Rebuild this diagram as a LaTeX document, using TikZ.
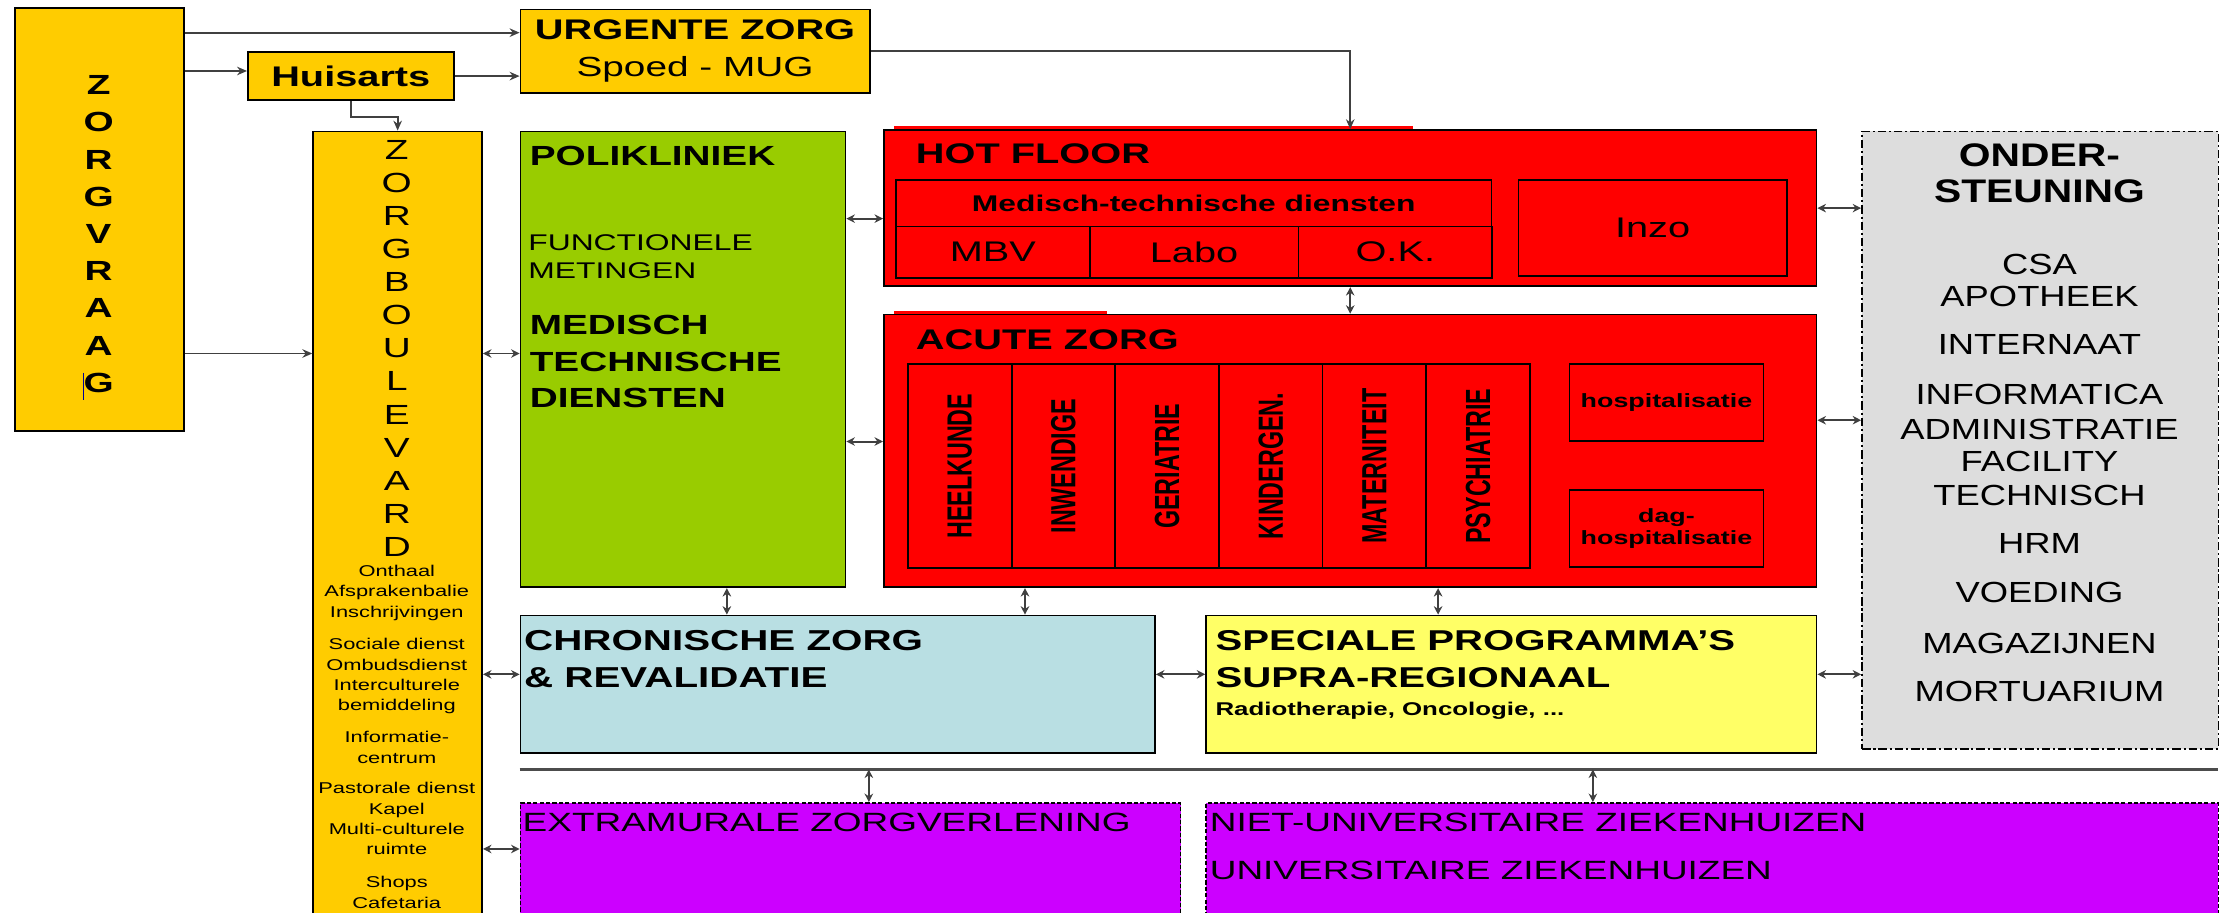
\documentclass[tikz,border=0pt]{standalone}
\usepackage{fontspec}
\setmainfont[FakeStretch=1.4]{Liberation Sans}
\newfontfamily\steunfont[FakeStretch=1.25]{Liberation Sans}
\newfontfamily\kolomfont{Liberation Sans}
\usetikzlibrary{arrows.meta}

\definecolor{zorggeel}{RGB}{255,204,0}
\definecolor{poligroen}{RGB}{153,204,0}
\definecolor{hotrood}{RGB}{255,0,0}
\definecolor{steungrijs}{RGB}{221,221,221}
\definecolor{chronblauw}{RGB}{185,223,227}
\definecolor{speciaalgeel}{RGB}{255,255,102}
\definecolor{extrapaars}{RGB}{204,0,255}

\newcommand{\grootte}[2]{\fontsize{#1}{#2}\selectfont}

\tikzset{
  blok/.style={draw=black, line width=1.2pt, inner sep=0pt, anchor=north west},
  tekst/.style={inner sep=0pt},
  pijl/.style={draw=black!75, line width=1.4pt, -{Stealth[length=7pt,width=6pt]}},
  dpijl/.style={draw=black!75, line width=1.4pt, {Stealth[length=6pt,width=6pt]}-{Stealth[length=6pt,width=6pt]}},
}

\begin{document}
\begin{tikzpicture}[x=1pt,y=-1pt]
        \useasboundingbox (0,0) rectangle (1568,643);
        \clip (0,0) rectangle (1568,643);
        % zorgvraag, huisarts, urgente zorg
        \node[blok, fill=zorggeel, minimum width=119pt, minimum height=298pt] (zorgvraag) at (10,5) {};
        \foreach \l [count=\i] in {Z,O,R,G,V,R,A,A,G}
        \node[tekst, font=\grootte{19.5}{20}\bfseries] (zv\i) at (69.5,60+26.2*\i-26.2) {\l};
        \draw[blue!60!black, line width=0.8pt] (59,262.5) -- (59,282);
        \node[blok, fill=zorggeel, minimum width=145pt, minimum height=34pt, font=\grootte{20}{24}\bfseries] (huisarts) at (174,36) {Huisarts};
        \node[blok, fill=zorggeel, minimum width=246pt, minimum height=59pt, align=center, font=\grootte{20}{25.8}] (urgente) at (366,6) {{\bfseries URGENTE ZORG}\\{\grootte{19.5}{25.8}Spoed - MUG}};
        % zorgboulevard
        \node[blok, fill=zorggeel, minimum width=119pt, minimum height=560pt] (zorgboulevard) at (220,92) {};
        \foreach \l [count=\i] in {Z,O,R,G,B,O,U,L,E,V,A,R,D}
        \node[tekst, font=\grootte{19.5}{20}] (zb\i) at (279.5,105.6+23.3*\i-23.3) {\l};
        \node[tekst, align=center, font=\grootte{11}{14.3}] (onthaal) at (279.5,417.5) {Onthaal\\Afsprakenbalie\\Inschrijvingen};
        \node[tekst, align=center, font=\grootte{11}{14.3}] (sociaal) at (279.5,476.4) {Sociale dienst\\Ombudsdienst\\Interculturele\\bemiddeling};
        \node[tekst, align=center, font=\grootte{11}{14.3}] (informatie) at (279.5,526.5) {Informatie-\\centrum};
        \node[tekst, align=center, font=\grootte{11}{14.3}] (pastoraal) at (279.5,576.7) {Pastorale dienst\\Kapel\\Multi-culturele\\ruimte};
        \node[tekst, align=center, font=\grootte{11}{14.3}] (shops) at (279.5,628.7) {Shops\\Cafetaria};
        % polikliniek
        \node[blok, fill=poligroen, minimum width=229pt, minimum height=321pt] (polikliniek) at (366,92) {};
        \node[tekst, anchor=west, font=\grootte{19.5}{24}\bfseries] (politekst) at (373,110) {POLIKLINIEK};
        \node[tekst, anchor=west, align=left, font=\grootte{16}{19.7}] (metingen) at (372,181) {FUNCTIONELE\\METINGEN};
        \node[tekst, anchor=west, align=left, font=\grootte{19.5}{25.7}\bfseries] (mtdtekst) at (373,254.8) {MEDISCH\\TECHNISCHE\\DIENSTEN};
        % hot floor
        \node[blok, fill=hotrood, minimum width=657pt, minimum height=110pt] (hotfloor) at (622,91) {};
        \draw[hotrood, line width=2pt] ([xshift=8pt,yshift=1pt]hotfloor.north west) -- ([xshift=373pt,yshift=1pt]hotfloor.north west);
        \node[tekst, anchor=west, font=\grootte{20}{24}\bfseries] (hottekst) at (645,108) {HOT FLOOR};
        \node[blok, fill=hotrood, minimum width=419.5pt, minimum height=33pt, font=\grootte{16}{19}\bfseries] (mtd) at (630.5,126) {Medisch-technische diensten};
        \node[blok, fill=hotrood, minimum width=136.5pt, minimum height=36pt, font=\grootte{20}{24}] (mbv) at (630.5,159) {MBV};
        \node[blok, fill=hotrood, minimum width=147pt, minimum height=36pt, font=\grootte{20}{24}] (labo) at (767,159) {Labo};
        \node[blok, fill=hotrood, minimum width=136.5pt, minimum height=36pt, font=\grootte{20}{24}] (ok) at (914,159) {O.K.};
        \node[blok, fill=hotrood, minimum width=189pt, minimum height=68pt, font=\grootte{20}{24}] (inzo) at (1069,126) {Inzo};
        % acute zorg
        \node[blok, fill=hotrood, minimum width=657pt, minimum height=192pt] (acutezorg) at (622,221) {};
        \draw[hotrood, line width=2pt] ([xshift=8pt,yshift=1pt]acutezorg.north west) -- ([xshift=158pt,yshift=1pt]acutezorg.north west);
        \node[tekst, anchor=west, font=\grootte{20}{24}\bfseries] (acutetekst) at (645,239.5) {ACUTE ZORG};
        \foreach \afd [count=\i] in {HEELKUNDE,INWENDIGE,GERIATRIE,KINDERGEN.,MATERNITEIT,PSYCHIATRIE}
        {
            \node[blok, fill=hotrood, minimum width=73pt, minimum height=143.5pt] (afd\i) at (639+73*\i-73,256) {};
            \node[tekst, rotate=90] (afdtekst\i) at (afd\i.center) {\scalebox{1}[1.5]{\kolomfont\grootte{16.4}{20}\bfseries \afd}};
        }
        \node[blok, fill=hotrood, minimum width=136.5pt, minimum height=54pt, font=\grootte{13.5}{15.8}\bfseries] (hosp) at (1105,256) {hospitalisatie};
        \node[blok, fill=hotrood, minimum width=136.5pt, minimum height=54.5pt, align=center, font=\grootte{13.5}{15.8}\bfseries] (daghosp) at (1105,344.5) {dag-\\hospitalisatie};
        % ondersteuning
        \node[blok, fill=steungrijs, dash pattern=on 6pt off 2pt on 1.5pt off 2pt, minimum width=251pt, minimum height=435pt] (steun) at (1311,92) {};
        \node[tekst, align=center, font=\steunfont\grootte{23}{25.2}\bfseries] (steuntitel) at (1436.6,122.3) {ONDER-\\STEUNING};
        \foreach \y/\t [count=\i] in {186/CSA, 209/APOTHEEK, 243/INTERNAAT, 278/INFORMATICA, 302.5/ADMINISTRATIE, 325/FACILITY, 349/TECHNISCH, 383/HRM, 417/VOEDING, 453/MAGAZIJNEN, 487/MORTUARIUM}
        \node[tekst, font=\steunfont\grootte{20.5}{24}] (steun\i) at (1436.6,\y) {\t};
        % chronische zorg, speciale programma's
        \node[blok, fill=chronblauw, minimum width=447pt, minimum height=97pt] (chronisch) at (366,433) {};
        \node[tekst, anchor=west, align=left, font=\grootte{20.3}{25.9}\bfseries] (chrontekst) at (369,464.5) {CHRONISCHE ZORG\\\& REVALIDATIE};
        \node[blok, fill=speciaalgeel, minimum width=430pt, minimum height=97pt] (speciaal) at (849,433) {};
        \node[tekst, anchor=west, align=left, font=\grootte{20.2}{25.9}\bfseries] (spectekst) at (856,464.5) {SPECIALE PROGRAMMA’S\\SUPRA-REGIONAAL};
        \node[tekst, anchor=west, font=\grootte{13}{15}\bfseries] (radio) at (856,501) {Radiotherapie, Oncologie, ...};
        % scheidingslijn en extramuraal
        \coordinate (lijnlinks) at (366,542);
        \coordinate (lijnrechts) at (1562,542);
        \draw[black!70, line width=1.5pt] (lijnlinks) -- (lijnrechts);
        \node[blok, fill=extrapaars, dash pattern=on 3pt off 1.5pt, minimum width=465pt, minimum height=90pt] (extramuraal) at (366,565) {};
        \node[tekst, anchor=west, font=\grootte{18.6}{22}] (extratekst) at (368,579) {EXTRAMURALE ZORGVERLENING};
        \node[blok, fill=extrapaars, dash pattern=on 3pt off 1.5pt, minimum width=713pt, minimum height=90pt] (ziekenhuizen) at (849,565) {};
        \node[tekst, anchor=west, font=\grootte{18.6}{22}] (nietuniv) at (852,579) {NIET-UNIVERSITAIRE ZIEKENHUIZEN};
        \node[tekst, anchor=west, font=\grootte{18.6}{22}] (univ) at (852,613) {UNIVERSITAIRE ZIEKENHUIZEN};
        % pijlen
        \draw[pijl] (zorgvraag.east |- 0,23) -- (urgente.west |- 0,23);
        \draw[pijl] (zorgvraag.east |- 0,50) -- (huisarts.west |- 0,50);
        \draw[pijl] (huisarts.east) -- (urgente.west |- huisarts.east);
        \draw[pijl] (huisarts.south) -- ++(0,11) -| (zorgboulevard.north);
        \draw[pijl] (zorgvraag.east |- 0,249) -- (zorgboulevard.west |- 0,249);
        \draw[dpijl] (zorgboulevard.east |- 0,249) -- (polikliniek.west |- 0,249);
        \draw[dpijl] (polikliniek.east |- 0,154) -- (hotfloor.west |- 0,154);
        \draw[dpijl] (polikliniek.east |- 0,311) -- (acutezorg.west |- 0,311);
        \draw[pijl] (urgente.east) -| (hotfloor.north);
        \draw[dpijl] (hotfloor.south) -- (acutezorg.north);
        \draw[dpijl] (hotfloor.east) -- (steun.west |- hotfloor.east);
        \draw[dpijl] (acutezorg.east |- 0,296) -- (steun.west |- 0,296);
        \draw[dpijl] (speciaal.east |- 0,475) -- (steun.west |- 0,475);
        \draw[dpijl] (polikliniek.south -| 512,0) -- (chronisch.north -| 512,0);
        \draw[dpijl] (acutezorg.south -| 722,0) -- (chronisch.north -| 722,0);
        \draw[dpijl] (acutezorg.south -| 1013,0) -- (speciaal.north -| 1013,0);
        \draw[dpijl] (zorgboulevard.east |- 0,475) -- (chronisch.west |- 0,475);
        \draw[dpijl] (chronisch.east |- 0,475) -- (speciaal.west |- 0,475);
        \draw[dpijl] (zorgboulevard.east |- 0,598) -- (extramuraal.west |- 0,598);
        \draw[dpijl] (lijnlinks -| 612,0) -- (extramuraal.north -| 612,0);
        \draw[dpijl] (lijnlinks -| 1122,0) -- (ziekenhuizen.north -| 1122,0);
    \end{tikzpicture}
\end{document}
